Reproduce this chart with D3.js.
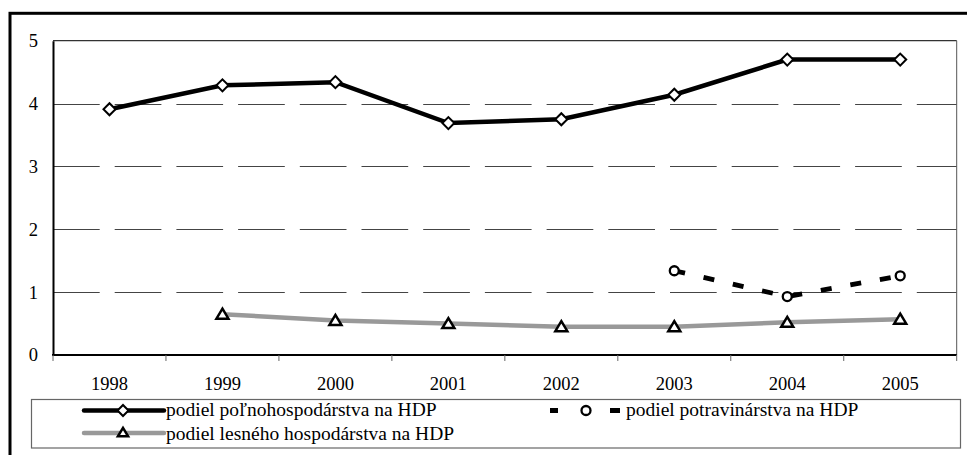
<!DOCTYPE html>
<html><head><meta charset="utf-8">
<script src="https://cdn.jsdelivr.net/npm/d3@7"></script>
</head><body style="margin:0"><svg id="c" width="967" height="455" style="display:block"></svg>
<script>
const years = ["1998","1999","2000","2001","2002","2003","2004","2005"];
const agri = [3.91, 4.29, 4.34, 3.69, 3.75, 4.14, 4.70, 4.70];
const food = [null, null, null, null, null, 1.34, 0.93, 1.26];
const forest = [null, 0.65, 0.55, 0.50, 0.45, 0.45, 0.52, 0.57];
const yTicks = [0,1,2,3,4,5];
const legendLabels = ["podiel poľnohospodárstva na HDP","podiel potravinárstva na HDP","podiel lesného hospodárstva na HDP"];

const FONT = "'Liberation Serif', 'Times New Roman', serif";
function font(sel, fs){ sel.style("font-family",FONT,"important").style("font-size",fs+"px","important").style("fill","#000"); return sel; }
const svg = d3.select("#c");
const L=53, R=956.7, T=40.7, B=355;
const x = d3.scaleBand().domain(years).range([L,R]);
const y = d3.scaleLinear().domain([0,5]).range([B,T]);

// outer frame
svg.append("rect").attr("x",10).attr("y",13.3).attr("width",1000).attr("height",500)
  .attr("fill","none").attr("stroke","#000").attr("stroke-width",3);

// gridlines
svg.append("g").selectAll("line").data(yTicks.filter(d=>d>0&&d<5)).join("line")
  .attr("x1",L).attr("x2",R).attr("y1",d=>Math.round(y(d))+0.5).attr("y2",d=>Math.round(y(d))+0.5)
  .attr("stroke","#444").attr("stroke-width",1).attr("stroke-dasharray","46.7,15");

// plot area border (top + right)
svg.append("line").attr("x1",L).attr("x2",R).attr("y1",T).attr("y2",T).attr("stroke","#333").attr("stroke-width",1.2);
svg.append("line").attr("x1",R).attr("x2",R).attr("y1",T).attr("y2",B).attr("stroke","#555").attr("stroke-width",1);

// y axis
const ya = svg.append("g").attr("transform",`translate(${L},0)`)
  .call(d3.axisLeft(y).tickValues(yTicks).tickSize(0).tickPadding(15).tickFormat(d3.format("d")));
ya.select(".domain").attr("stroke","#000").attr("stroke-width",2);
font(ya.selectAll("text"), 18.5);

// x axis
const xa = svg.append("g").attr("transform",`translate(0,${B})`)
  .call(d3.axisBottom(x).tickSize(0).tickPadding(21.5));
xa.select(".domain").remove();
font(xa.selectAll("text"), 18.5);
svg.append("line").attr("x1",L-1).attr("x2",R).attr("y1",B).attr("y2",B).attr("stroke","#000").attr("stroke-width",2);
const bounds = years.map(d=>x(d)).concat([R]);
svg.append("g").selectAll("line").data(bounds).join("line")
  .attr("x1",d=>d).attr("x2",d=>d).attr("y1",B).attr("y2",B+6).attr("stroke","#666").attr("stroke-width",1);

const cx = d=>x(d)+x.bandwidth()/2;
const mk = arr => arr.map((v,i)=>({k:years[i],v})).filter(d=>d.v!=null);
const line = d3.line().x(d=>cx(d.k)).y(d=>y(d.v));

// forest
svg.append("path").datum(mk(forest)).attr("d",line).attr("fill","none").attr("stroke","#999").attr("stroke-width",4.5);
// food
svg.append("path").datum(mk(food)).attr("d",line).attr("fill","none").attr("stroke","#000").attr("stroke-width",4.8).attr("stroke-dasharray","11,19");
// agri
svg.append("path").datum(mk(agri)).attr("d",line).attr("fill","none").attr("stroke","#000").attr("stroke-width",4.5);

function diamonds(g,pts,sz){g.selectAll(null).data(pts).join("path").attr("d",d3.symbol().type(d3.symbolSquare).size(sz))
  .attr("transform",d=>`translate(${d[0]},${d[1]}) rotate(45)`).attr("fill","#fff").attr("stroke","#000").attr("stroke-width",2);}
function circles(g,pts){g.selectAll(null).data(pts).join("circle").attr("cx",d=>d[0]).attr("cy",d=>d[1]).attr("r",4.5)
  .attr("fill","#fff").attr("stroke","#000").attr("stroke-width",2.3);}
function tris(g,pts,s){g.selectAll(null).data(pts).join("path").attr("d",`M0,${-5.5*s}L${6*s},${4.5*s}L${-6*s},${4.5*s}Z`)
  .attr("transform",d=>`translate(${d[0]},${d[1]})`).attr("fill","#fff").attr("stroke","#000").attr("stroke-width",2.5).attr("stroke-linejoin","miter");}

tris(svg.append("g"), mk(forest).map(d=>[cx(d.k),y(d.v)]), 1);
circles(svg.append("g"), mk(food).map(d=>[cx(d.k),y(d.v)]));
diamonds(svg.append("g"), mk(agri).map(d=>[cx(d.k),y(d.v)]), 72);

// legend
svg.append("rect").attr("x",31.5).attr("y",399.5).attr("width",929).attr("height",48.5)
  .attr("fill","#fff").attr("stroke","#666").attr("stroke-width",1.2);
const LFS = 19.5;
// row 1 col 1
svg.append("line").attr("x1",84).attr("x2",164).attr("y1",410.5).attr("y2",410.5).attr("stroke","#000").attr("stroke-width",4.5).attr("stroke-linecap","round");
diamonds(svg.append("g"),[[123,410.5]], 60);
font(svg.append("text").attr("x",166).attr("y",416).text(legendLabels[0]), LFS);
// row 1 col 2
svg.append("line").attr("x1",550).attr("x2",558).attr("y1",410.5).attr("y2",410.5).attr("stroke","#000").attr("stroke-width",5);
svg.append("line").attr("x1",610).attr("x2",620).attr("y1",410.5).attr("y2",410.5).attr("stroke","#000").attr("stroke-width",5);
circles(svg.append("g"),[[586,410.5]]);
font(svg.append("text").attr("x",626).attr("y",416).text(legendLabels[1]), LFS);
// row 2
svg.append("line").attr("x1",84).attr("x2",164).attr("y1",433).attr("y2",433).attr("stroke","#999").attr("stroke-width",4.5).attr("stroke-linecap","round");
tris(svg.append("g"),[[123,432.5]], 0.85);
font(svg.append("text").attr("x",166).attr("y",439.5).text(legendLabels[2]), LFS);
</script></body></html>
